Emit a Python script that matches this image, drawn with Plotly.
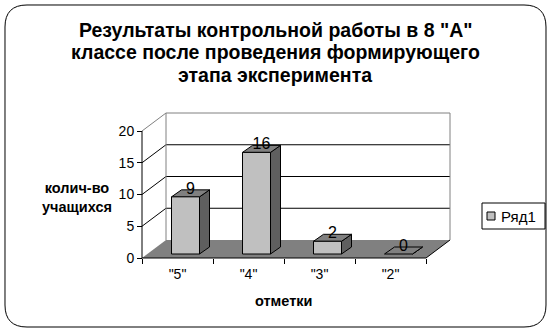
import plotly.graph_objects as go

# ---- data ----
categories = ['"5"', '"4"', '"3"', '"2"']
values = [9, 16, 2, 0]
y_ticks = [0, 5, 10, 15, 20]
series_name = "Ряд1"
title_lines = ['Результаты контрольной работы в 8 "А"',
               'классе после проведения формирующего',
               'этапа эксперимента']
y_title = "колич-во<br>учащихся"
x_title = "отметки"

# ---- geometry (pixel layout) ----
W, H = 551, 332
PX0, CW = 142, 71.0      # pixel of x=-0.5, px per category
PY0, UH = 258, 6.35      # pixel of y=0, px per unit
L, R, T, B = 136, 466, 96, 264   # plot area in pixels
xr = [-0.5 - (PX0 - L) / CW, -0.5 + (R - PX0) / CW]
yr = [-(B - PY0) / UH, (PY0 - T) / UH]

def pxp(px):
    return (px - L) / (R - L)

def pyp(py):
    return (B - py) / (B - T)

DX = 24 / CW   # depth offset in x units
DY = 18 / UH   # depth offset in y units
YMAX = max(y_ticks)
x_lo, x_hi = -0.5, len(categories) - 0.5

FONT = "Liberation Sans, Arial, sans-serif"
fig = go.Figure()

def poly(xs, ys, fill, line="black", width=1):
    fig.add_trace(go.Scatter(x=xs + [xs[0]], y=ys + [ys[0]], mode="lines",
                             fill="toself", fillcolor=fill,
                             line=dict(color=line, width=width),
                             hoverinfo="skip", showlegend=False))

def seg(xs, ys, color="black", width=1):
    fig.add_trace(go.Scatter(x=xs, y=ys, mode="lines",
                             line=dict(color=color, width=width),
                             hoverinfo="skip", showlegend=False))

# walls
poly([x_lo, x_lo, x_lo + DX, x_lo + DX], [0, YMAX, YMAX + DY, DY], "white", line="rgba(0,0,0,0)")
poly([x_lo + DX, x_lo + DX, x_hi + DX, x_hi + DX], [DY, YMAX + DY, YMAX + DY, DY], "white", line="rgba(0,0,0,0)")
for v in y_ticks[1:-1]:
    seg([x_lo, x_lo + DX, x_hi + DX], [v, v + DY, v + DY])
seg([x_lo, x_lo + DX, x_hi + DX, x_hi + DX], [YMAX, YMAX + DY, YMAX + DY, DY], color="#808080")
seg([x_lo + DX, x_lo + DX], [DY, YMAX + DY], color="#808080")
# floor
poly([x_lo, x_hi, x_hi + DX, x_lo + DX], [0, 0, DY, DY], "#808080", line="rgba(0,0,0,0)")
seg([x_hi, x_hi + DX], [0, DY])
# axis lines
seg([x_lo, x_hi], [0, 0])
seg([x_lo, x_lo], [0, YMAX])

# bars
OX, OY = 8 / CW, 4 / UH
HW = 14 / CW
BDX, BDY = 10 / CW, 7 / UH
for i, v in enumerate(values):
    x0, x1 = i - HW + OX, i + HW + OX
    y0, y1 = OY, v + OY
    poly([x1, x1 + BDX, x1 + BDX, x1], [y0, y0 + BDY, y1 + BDY, y1], "#5f5f5f")
    poly([x0, x1, x1 + BDX, x0 + BDX], [y1, y1, y1 + BDY, y1 + BDY], "#808080")
    if v > 0:
        poly([x0, x1, x1, x0], [y0, y0, y1, y1], "#c0c0c0")

fig.add_trace(go.Scatter(
    x=[i + OX + BDX / 2 for i in range(len(values))],
    y=[v + OY + BDY for v in values],
    mode="text", text=[str(v) for v in values], textposition="middle center",
    textfont=dict(family=FONT, size=16, color="black"),
    cliponaxis=False, hoverinfo="skip", showlegend=False))

fig.update_layout(
    width=W, height=H, paper_bgcolor="white", plot_bgcolor="white",
    margin=dict(l=L, r=W - R, t=T, b=H - B),
    showlegend=False,
    font=dict(family=FONT, size=13, color="black"),
    xaxis=dict(range=xr, anchor="free", position=(B - PY0) / (B - T),
               tickvals=list(range(len(categories))), ticktext=categories,
               ticks="outside", ticklen=3, tickcolor="rgba(0,0,0,0)",
               minor=dict(tickvals=[k - 0.5 for k in range(len(categories) + 1)],
                          ticks="outside", ticklen=5, tickcolor="black", showgrid=False),
               showgrid=False, zeroline=False, showline=False,
               tickfont=dict(family=FONT, size=14, color="black")),
    yaxis=dict(range=yr, anchor="free", position=(PX0 - L) / (R - L),
               tickvals=y_ticks, ticks="outside", ticklen=5, tickcolor="black",
               showgrid=False, zeroline=False, showline=False,
               tickfont=dict(family=FONT, size=14, color="black")),
)

# title (one annotation per line for exact line spacing)
for k, (line_text, cy) in enumerate(zip(title_lines, [30, 52, 75])):
    fig.add_annotation(text=line_text, x=pxp(275), y=pyp(cy), xref="paper", yref="paper",
                       showarrow=False, xanchor="center", yanchor="middle",
                       font=dict(family=FONT, size=19.5, color="black", weight="bold"))

# axis titles
fig.add_annotation(text=y_title, x=pxp(77), y=pyp(197), xref="paper", yref="paper",
                   showarrow=False, xanchor="center", yanchor="middle", align="center",
                   font=dict(family=FONT, size=14.5, color="black", weight="bold"))
fig.add_annotation(text=x_title, x=pxp(283), y=pyp(301), xref="paper", yref="paper",
                   showarrow=False, xanchor="center", yanchor="middle",
                   font=dict(family=FONT, size=14.5, color="black", weight="bold"))

# legend (manual)
fig.add_shape(type="rect", xref="paper", yref="paper",
              x0=pxp(482), x1=pxp(545), y0=pyp(229), y1=pyp(203),
              line=dict(color="black", width=1), fillcolor="white")
fig.add_shape(type="rect", xref="paper", yref="paper",
              x0=pxp(487), x1=pxp(495), y0=pyp(220), y1=pyp(212),
              line=dict(color="black", width=1), fillcolor="#c0c0c0")
fig.add_annotation(text=series_name, x=pxp(499), y=pyp(216), xref="paper", yref="paper",
                   showarrow=False, xanchor="left", yanchor="middle",
                   font=dict(family=FONT, size=15, color="black"))

# outer rounded border
r = 22
x0b, y0b, x1b, y1b = 5, 5, 546, 327
def P(px, py):
    return f"{pxp(px):.5f},{pyp(py):.5f}"
path = (f"M {P(x0b + r, y0b)} L {P(x1b - r, y0b)} Q {P(x1b, y0b)} {P(x1b, y0b + r)} "
        f"L {P(x1b, y1b - r)} Q {P(x1b, y1b)} {P(x1b - r, y1b)} "
        f"L {P(x0b + r, y1b)} Q {P(x0b, y1b)} {P(x0b, y1b - r)} "
        f"L {P(x0b, y0b + r)} Q {P(x0b, y0b)} {P(x0b + r, y0b)} Z")
fig.add_shape(type="path", xref="paper", yref="paper", path=path,
              line=dict(color="black", width=1), layer="below")

fig.write_html("out.html")
